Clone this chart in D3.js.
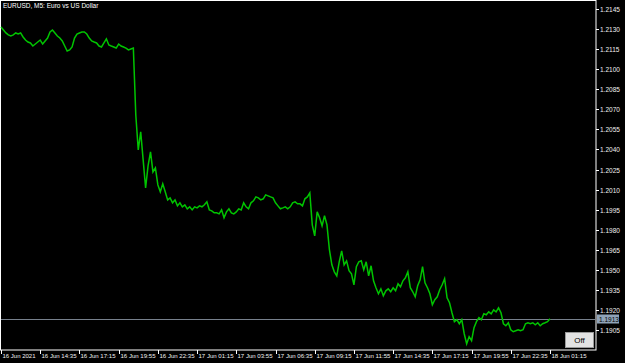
<!DOCTYPE html>
<html>
<head>
<meta charset="utf-8">
<script src="https://cdn.jsdelivr.net/npm/d3@7"></script>
<style>
  body { margin: 0; background: #000; overflow: hidden; }
  text { font-family: "Liberation Sans", Arial, sans-serif; }
</style>
</head>
<body>
<script>
// EURUSD M5 closes, sampled every 10 minutes from 16 Jun 2021 11:55
const startTime = new Date(2021, 5, 16, 11, 55);
const stepMinutes = 10;
const closes = [
  1.21315, 1.21293, 1.21271, 1.21256, 1.21248, 1.21256, 1.21271, 1.21263, 1.21271, 1.21241,
  1.21218, 1.21203, 1.21196, 1.21173, 1.21188, 1.21203, 1.21218, 1.21188, 1.21211, 1.21233,
  1.21278, 1.21293, 1.21271, 1.21248, 1.21233, 1.21211, 1.21173, 1.21136, 1.21144, 1.21166,
  1.21233, 1.21263, 1.21271, 1.21278, 1.21278, 1.21263, 1.21233, 1.21211, 1.21203, 1.21196,
  1.21173, 1.21166, 1.21196, 1.21226, 1.21181, 1.21173, 1.21166, 1.21158, 1.21188, 1.21173,
  1.21166, 1.21158, 1.21144, 1.21151, 1.21158, 1.20658, 1.20397, 1.20531, 1.20322, 1.20113,
  1.20277, 1.20382, 1.20232, 1.20262, 1.20135, 1.20083, 1.20143, 1.20083, 1.20023, 1.20038,
  1.20001, 1.20023, 1.19978, 1.20001, 1.19971, 1.19986, 1.19956, 1.19971, 1.19948, 1.19971,
  1.19963, 1.19978, 1.19971, 1.19986, 1.20008, 1.19948, 1.19941, 1.19926, 1.19926, 1.19918,
  1.19948, 1.19889, 1.19933, 1.19956, 1.19926, 1.19918, 1.19933, 1.19956, 1.19948, 1.20001,
  1.19971, 1.19956, 1.20001, 1.20016, 1.20045, 1.20038, 1.20023, 1.20031, 1.20060, 1.20053,
  1.20045, 1.20038, 1.20001, 1.19978, 1.19956, 1.19963, 1.19971, 1.19956, 1.19971, 1.20001,
  1.20008, 1.19993, 1.19993, 1.19978, 1.20031, 1.20045, 1.20075, 1.19836, 1.19754, 1.19933,
  1.19889, 1.19829, 1.19904, 1.19836, 1.19650, 1.19537, 1.19485, 1.19455, 1.19560, 1.19642,
  1.19537, 1.19567, 1.19493, 1.19470, 1.19388, 1.19523, 1.19560, 1.19567, 1.19500, 1.19560,
  1.19455, 1.19530, 1.19418, 1.19366, 1.19321, 1.19358, 1.19306, 1.19343, 1.19358, 1.19336,
  1.19366, 1.19343, 1.19396, 1.19373, 1.19418, 1.19440, 1.19485, 1.19366, 1.19336, 1.19298,
  1.19381, 1.19425, 1.19523, 1.19403, 1.19366, 1.19321, 1.19239, 1.19276, 1.19298, 1.19351,
  1.19388, 1.19433, 1.19291, 1.19254, 1.19179, 1.19112, 1.19127, 1.19097, 1.19127, 1.19022,
  1.18947, 1.19000, 1.18970, 1.19067, 1.19112, 1.19142, 1.19127, 1.19171, 1.19164, 1.19186,
  1.19171, 1.19201, 1.19186, 1.19216, 1.19179, 1.19097, 1.19082, 1.19104, 1.19052, 1.19037,
  1.19044, 1.19052, 1.19044, 1.19052, 1.19097, 1.19104, 1.19097, 1.19104, 1.19089, 1.19104,
  1.19082, 1.19097, 1.19104, 1.19112, 1.19134
];

const priceTicks = [1.2145, 1.2130, 1.2115, 1.2100, 1.2085, 1.2070, 1.2055, 1.2040, 1.2025,
  1.2010, 1.1995, 1.1980, 1.1965, 1.1950, 1.1935, 1.1920, 1.1905];

const timeTicks = [
  new Date(2021, 5, 16, 11, 55), new Date(2021, 5, 16, 14, 35), new Date(2021, 5, 16, 17, 15),
  new Date(2021, 5, 16, 19, 55), new Date(2021, 5, 16, 22, 35), new Date(2021, 5, 17, 1, 15),
  new Date(2021, 5, 17, 3, 55), new Date(2021, 5, 17, 6, 35), new Date(2021, 5, 17, 9, 15),
  new Date(2021, 5, 17, 11, 55), new Date(2021, 5, 17, 14, 35), new Date(2021, 5, 17, 17, 15),
  new Date(2021, 5, 17, 19, 55), new Date(2021, 5, 17, 22, 35), new Date(2021, 5, 18, 1, 15)
];
const timeLabels = ["16 Jun 2021", "16 Jun 14:35", "16 Jun 17:15", "16 Jun 19:55", "16 Jun 22:35",
  "17 Jun 01:15", "17 Jun 03:55", "17 Jun 06:35", "17 Jun 09:15", "17 Jun 11:55",
  "17 Jun 14:35", "17 Jun 17:15", "17 Jun 19:55", "17 Jun 22:35", "18 Jun 01:15"];

const bid = 1.1913;
const title = "EURUSD, M5:  Euro vs US Dollar";

const W = 625, H = 363;
const plot = { left: 1, top: 1, right: 596, bottom: 350 };

const svg = d3.select("body").append("svg")
  .attr("width", W)
  .attr("height", H)
  .style("display", "block")
  .style("background", "#000");

let x = d3.scaleTime()
  .domain([timeTicks[0], timeTicks[timeTicks.length - 1]])
  .range([1, 550]);
let y = d3.scaleLinear()
  .domain([1.1905, 1.2145])
  .range([330, 9]);

let data = closes.map((c, i) => [d3.timeMinute.offset(startTime, i * stepMinutes), c]);

// plot frame
svg.append("rect")
  .attr("x", plot.left - 0.5)
  .attr("y", plot.top - 0.5)
  .attr("width", plot.right - plot.left + 0.5)
  .attr("height", plot.bottom - plot.top + 0.5)
  .attr("fill", "none")
  .attr("stroke", "#fff");

// bid line
svg.append("line")
  .attr("x1", plot.left).attr("x2", plot.right)
  .attr("y1", Math.round(y(bid)) + 0.5).attr("y2", Math.round(y(bid)) + 0.5)
  .attr("stroke", "#77808c");

// price line
let line = d3.line()
  .x(d => x(d[0]))
  .y(d => y(d[1]));
svg.append("path")
  .datum(data)
  .attr("d", line)
  .attr("fill", "none")
  .attr("stroke", "#00c400")
  .attr("stroke-width", 1.5)
  .attr("stroke-linejoin", "miter");

// price axis
let yAxis = svg.append("g");
priceTicks.forEach(p => {
  let yy = Math.round(y(p)) + 0.5;
  yAxis.append("line")
    .attr("x1", plot.right).attr("x2", plot.right + 3)
    .attr("y1", yy).attr("y2", yy)
    .attr("stroke", "#fff");
  yAxis.append("text")
    .attr("x", plot.right + 4)
    .attr("y", yy + 2.5)
    .attr("fill", "#f0f0f0")
    .attr("font-size", "6.5px")
    .text(p.toFixed(4));
});

// bid label
let by = Math.round(y(bid));
svg.append("rect")
  .attr("x", plot.right + 1).attr("y", by - 4.5)
  .attr("width", 22).attr("height", 9)
  .attr("fill", "#8fa3b8");
svg.append("text")
  .attr("x", plot.right + 3).attr("y", by + 2.5)
  .attr("fill", "#000")
  .attr("font-size", "6.5px")
  .text(bid.toFixed(4));

// time axis
let xAxis = svg.append("g");
timeTicks.forEach((t, i) => {
  let xx = Math.round(x(t)) + 0.5;
  xAxis.append("line")
    .attr("x1", xx).attr("x2", xx)
    .attr("y1", plot.bottom).attr("y2", plot.bottom + 4)
    .attr("stroke", "#fff");
  xAxis.append("text")
    .attr("x", xx + 1)
    .attr("y", 358)
    .attr("fill", "#f0f0f0")
    .attr("font-size", "6px")
    .attr("textLength", i === 0 ? 33 : 35)
    .attr("lengthAdjust", "spacingAndGlyphs")
    .text(timeLabels[i]);
});

// title
svg.append("text")
  .attr("x", 3).attr("y", 8)
  .attr("fill", "#fff")
  .attr("font-size", "6.5px")
  .text(title);

// Off button
svg.append("rect")
  .attr("x", 565.5).attr("y", 332.5)
  .attr("width", 28).attr("height", 15)
  .attr("fill", "#e3e3e3")
  .attr("stroke", "#9a9a9a");
svg.append("text")
  .attr("x", 579.5).attr("y", 343)
  .attr("text-anchor", "middle")
  .attr("fill", "#000")
  .attr("font-size", "8px")
  .text("Off");
</script>
</body>
</html>
